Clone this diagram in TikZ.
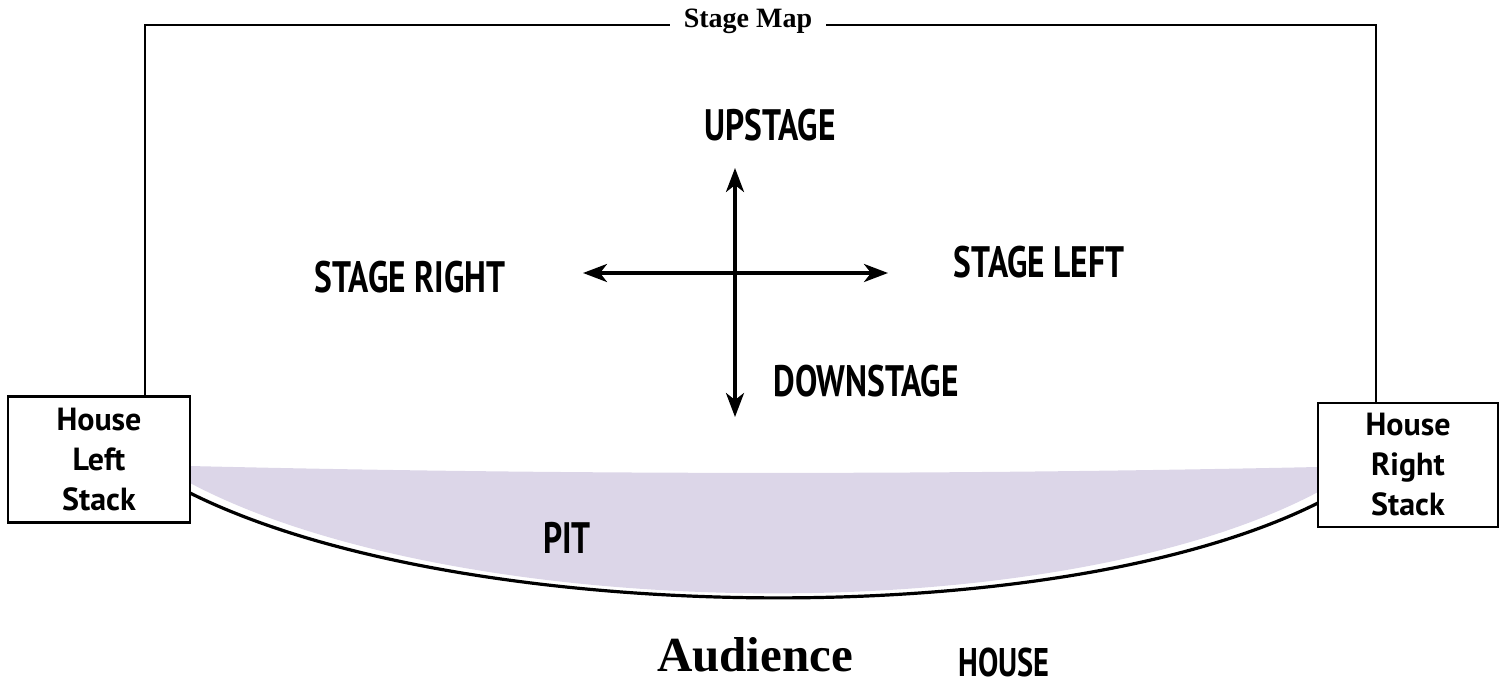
\documentclass[tikz,border=0pt]{standalone}
\usepackage{fontspec}
\usetikzlibrary{arrows.meta}
\newfontfamily\handcaps[FakeStretch=0.76]{PT Sans}
\newfontfamily\hand{PT Sans}
\newfontfamily\serifb{Liberation Serif}
\definecolor{pitcol}{RGB}{220,214,232}
\begin{document}
\begin{tikzpicture}[x=1pt,y=-1pt,
  caps/.style={font=\handcaps\bfseries\fontsize{44}{44}\selectfont, inner sep=0pt},
  stackbox/.style={draw, line width=2.2pt, minimum width=182pt, minimum height=126pt, align=center, font=\hand\bfseries\fontsize{32}{40}\selectfont, inner sep=0pt},
  dirarrow/.style={line width=3.5pt, {Stealth[length=24pt,width=18pt,inset=7pt]}-{Stealth[length=24pt,width=18pt,inset=7pt]}},
  outline/.style={line width=2pt}]
\useasboundingbox (0,0) rectangle (1506,688);
% pit
\fill[pitcol] (190,466) .. controls (566,475) and (942,475) .. (1318,467) -- (1318,492) .. controls (1052,633) and (456,624) .. (190,483) -- cycle;
% boxes
\node[stackbox] (lbox) at (99,459.5) {House\\Left\\Stack};
\node[stackbox, minimum width=180pt, minimum height=124pt] (rbox) at (1408,465) {House\\Right\\Stack};
% title
\node[font=\serifb\bfseries\fontsize{28}{28}\selectfont, inner xsep=14pt, inner ysep=0pt] (title) at (748,21) {Stage Map};
\coordinate (tl) at (145,25);
\coordinate (tr) at (1376,25);
\draw[outline] (lbox.north -| tl) -- (tl) -- (title.west |- tl);
\draw[outline] (title.east |- tr) -- (tr) -- (rbox.north -| tr);
% front edge
\coordinate (al) at (190,493);
\coordinate (ar) at (1318,503);
\draw[line width=3.2pt] (al) .. controls (456,626) and (1052,636) .. (ar);
% direction arrows
\coordinate (up) at (735,168);
\coordinate (down) at (735,417);
\coordinate (left) at (583,273);
\coordinate (right) at (888,273);
\draw[dirarrow] (left) -- (right);
\draw[dirarrow] (up) -- (down);
% labels
\node[caps] (upstage) at (770,125) {UPSTAGE};
\node[caps] (sright) at (410,277) {STAGE RIGHT};
\node[caps] (sleft) at (1039,262) {STAGE LEFT};
\node[caps] (downstage) at (866,381) {DOWNSTAGE};
\node[caps] (pit) at (567,538) {PIT};
\node[caps, font=\handcaps\bfseries\fontsize{40}{40}\selectfont] (house) at (1004,662) {HOUSE};
\node[font=\serifb\bfseries\fontsize{49}{49}\selectfont, inner sep=0pt] (aud) at (755,655) {Audience};
\end{tikzpicture}
\end{document}
